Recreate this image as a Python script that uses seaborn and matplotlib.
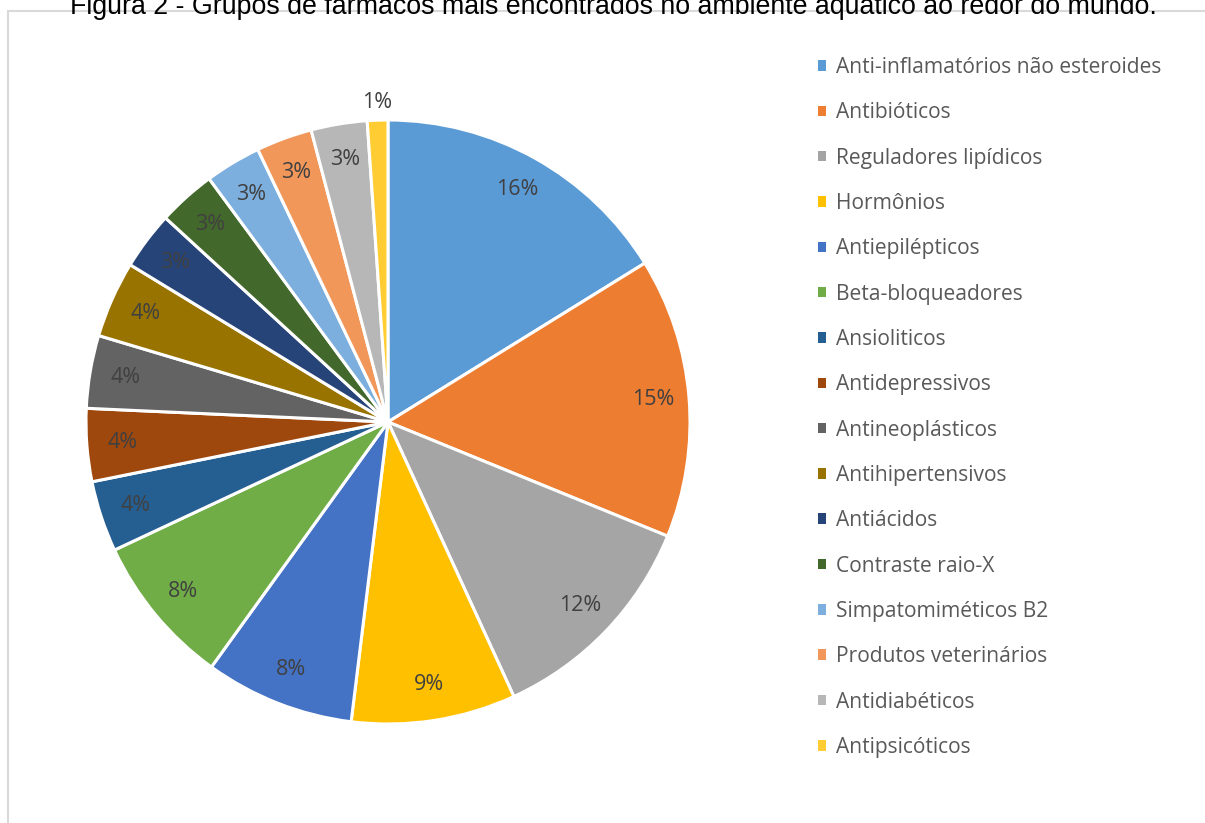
import matplotlib
matplotlib.use("Agg")
import matplotlib.pyplot as plt
import seaborn as sns
import numpy as np
from matplotlib.patches import Patch, Rectangle

categories = [
    "Anti-inflamatórios não esteroides", "Antibióticos", "Reguladores lipídicos",
    "Hormônios", "Antiepilépticos", "Beta-bloqueadores", "Ansioliticos",
    "Antidepressivos", "Antineoplásticos", "Antihipertensivos", "Antiácidos",
    "Contraste raio-X", "Simpatomiméticos B2", "Produtos veterinários",
    "Antidiabéticos", "Antipsicóticos",
]
values = [16.2, 15.0, 12.0, 8.8, 8.0, 8.1, 3.8, 3.9, 3.9, 4.1, 3.1, 3.1, 3.0, 3.0, 3.0, 1.1]
colors = [
    "#5B9BD5", "#ED7D31", "#A5A5A5", "#FFC000", "#4472C4", "#70AD47", "#255E91",
    "#9E480E", "#636363", "#997300", "#264478", "#43682B", "#7CAFDD", "#F1975A",
    "#B7B7B7", "#FFCD33",
]
title = "Figura 2 - Grupos de fármacos mais encontrados no ambiente aquático ao redor do mundo."

sns.set_theme(style="white")
plt.rcParams["font.family"] = ["Open Sans", "DejaVu Sans"]

W, H = 1205, 823
fig = plt.figure(figsize=(W / 100, H / 100), dpi=100)
fig.patch.set_facecolor("white")

# chart-area border (partly cut off)
fig.add_artist(Rectangle((8 / W, -0.05), 1.2, 1 - 11 / H + 0.05, transform=fig.transFigure,
                         fill=False, edgecolor="#D9D9D9", linewidth=1.5))

fig.text(613 / W, 1 - 14 / H, title, ha="center", va="baseline",
         fontsize=19.3, family=["Liberation Sans", "DejaVu Sans"], color="#000000")

cx, cy, r = 388, 422, 302
ax = fig.add_axes([(cx - r) / W, (H - cy - r) / H, 2 * r / W, 2 * r / H])
wedges, texts, autotexts = ax.pie(
    values, colors=colors, startangle=90, counterclock=False,
    autopct="%.0f%%", pctdistance=0.88,
    wedgeprops=dict(edgecolor="white", linewidth=2.2),
    textprops=dict(color="#404040", fontsize=15.5),
)
# smallest slice label placed outside
w = wedges[-1]
ang = np.deg2rad((w.theta1 + w.theta2) / 2)
autotexts[-1].set_position((1.06 * np.cos(ang), 1.06 * np.sin(ang)))
ax.set_xlim(-1, 1)
ax.set_ylim(-1, 1)
ax.set_aspect("equal")
ax.axis("off")

handles = [Patch(facecolor=c, edgecolor="none") for c in colors]
leg = fig.legend(handles, categories, loc="upper left",
                 bbox_to_anchor=(818 / W, 1 - 57 / H), frameon=False,
                 fontsize=15.1, labelcolor="#595959", handlelength=0.4,
                 handleheight=0.4, handletextpad=0.45, labelspacing=1.16,
                 borderaxespad=0, borderpad=0)

fig.savefig("out.png", dpi=100, facecolor="white")
